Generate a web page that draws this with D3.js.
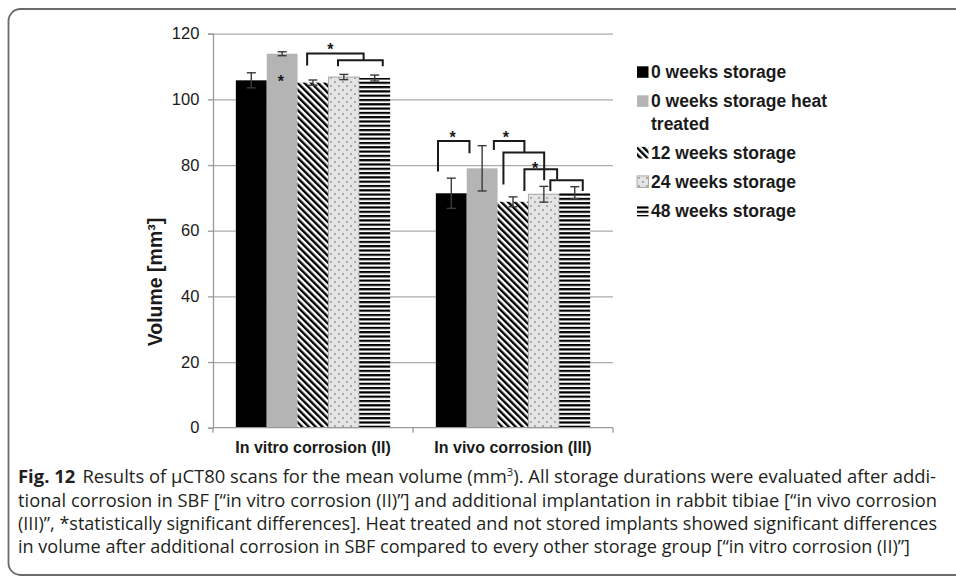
<!DOCTYPE html>
<html>
<head>
<meta charset="utf-8">
<script src="https://cdn.jsdelivr.net/npm/d3@7"></script>
<style>
  body { margin: 0; background: #fff; }
  svg { display: block; }
  .chart text { font-family: "Liberation Sans", Arial, sans-serif; fill: #1a1a1a; }
  .caption text { font-family: "Open Sans", "Noto Sans", sans-serif; fill: #231f20; }
</style>
</head>
<body>
<div id="fig"></div>
<script>
// values (mm^3)
var categories = ["In vitro corrosion (II)", "In vivo corrosion (III)"];
var seriesNames = ["0 weeks storage", "0 weeks storage heat treated", "12 weeks storage", "24 weeks storage", "48 weeks storage"];
var meanVitro = [105.8, 113.9, 105.1, 106.8, 106.5];
var errVitro  = [2.3, 0.6, 0.8, 0.8, 0.9];
var meanVivo  = [71.4, 79.0, 68.8, 71.1, 71.6];
var errVivo   = [4.6, 6.9, 1.5, 2.4, 1.8];
var yTicks = [0, 20, 40, 60, 80, 100, 120];

// significance brackets, in bar units (0..5 across a group) and volume units
var bracketsVitro = [
  {from: 2.31, to: 4.14, top: 114.0, leftEnd: 110.3, rightEnd: 111.9},
  {from: 3.31, to: 4.76, top: 111.9, leftEnd: 110.1, rightEnd: 110.1}
];
var bracketsVivo = [
  {from: 0.07, to: 1.09, top: 87.3, leftEnd: 78.0, rightEnd: 83.6},
  {from: 1.88, to: 2.87, top: 87.3, leftEnd: 84.6, rightEnd: 83.8},
  {from: 2.19, to: 3.51, top: 83.8, leftEnd: 74.1, rightEnd: 75.4},
  {from: 2.87, to: 3.93, top: 78.7, leftEnd: 72.1, rightEnd: 75.7},
  {from: 3.71, to: 4.76, top: 75.4, leftEnd: 72.1, rightEnd: 72.1}
];
var starsVitro = [{at: 3.06, value: 116.3}, {at: 1.46, value: 106.5}];
var starsVivo  = [{at: 0.54, value: 89.5}, {at: 2.27, value: 89.5}, {at: 3.22, value: 80.0}];

var legendLabels = [["0 weeks storage"], ["0 weeks storage heat", "treated"], ["12 weeks storage"], ["24 weeks storage"], ["48 weeks storage"]];

var captionLines = [
  [{t: "Fig. 12", b: true}, {t: "Results of \u00b5CT80 scans for the mean volume (mm", dx: 7}, {t: "3", sup: true}, {t: "). All storage durations were evaluated after addi-"}],
  [{t: "tional corrosion in SBF [\u201cin vitro corrosion (II)\u201d] and additional implantation in rabbit tibiae [\u201cin vivo corrosion"}],
  [{t: "(III)\u201d, *statistically significant differences]. Heat treated and not stored implants showed significant differences"}],
  [{t: "in volume after additional corrosion in SBF compared to every other storage group [\u201cin vitro corrosion (II)\u201d]"}]
];
var captionWidths = [918, 919, 919, 892];

var width = 956, height = 576;
var plot = {left: 213, right: 613, top: 33.7, bottom: 427.7};

var svg = d3.select("#fig").append("svg")
    .attr("width", width)
    .attr("height", height);

// frame round the figure
svg.append("rect")
    .attr("x", 8.5).attr("y", 9)
    .attr("width", 980).attr("height", 566)
    .attr("rx", 12)
    .attr("fill", "none")
    .attr("stroke", "#6b6b6b")
    .attr("stroke-width", 1.8);

var defs = svg.append("defs");

var hatch = defs.append("pattern").attr("id", "hatch")
    .attr("patternUnits", "userSpaceOnUse")
    .attr("width", 4.8).attr("height", 10)
    .attr("patternTransform", "rotate(-45)");
hatch.append("rect").attr("width", 4.8).attr("height", 10).attr("fill", "#fff");
hatch.append("rect").attr("width", 2.4).attr("height", 10).attr("fill", "#000");

var dots = defs.append("pattern").attr("id", "dots")
    .attr("patternUnits", "userSpaceOnUse")
    .attr("width", 8).attr("height", 8);
dots.append("rect").attr("width", 8).attr("height", 8).attr("fill", "#e4e4e4");
dots.append("circle").attr("cx", 2).attr("cy", 2).attr("r", 0.75).attr("fill", "#555");
dots.append("circle").attr("cx", 6).attr("cy", 6).attr("r", 0.75).attr("fill", "#555");

var stripes = defs.append("pattern").attr("id", "stripes")
    .attr("patternUnits", "userSpaceOnUse")
    .attr("width", 10).attr("height", 4.3);
stripes.append("rect").attr("width", 10).attr("height", 4.3).attr("fill", "#fff");
stripes.append("rect").attr("width", 10).attr("height", 2.2).attr("fill", "#000");

var fills = ["#000", "#b4b4b4", "url(#hatch)", "url(#dots)", "url(#stripes)"];
var strokes = ["none", "none", "none", "#a8a8a8", "none"];

var g = svg.append("g").attr("class", "chart");

var y = d3.scaleLinear().domain([0, 120]).range([plot.bottom, plot.top]);
var x0 = d3.scaleBand().domain(categories).range([plot.left, plot.right]);
var x1 = d3.scaleBand().domain(seriesNames).range([0, x0.bandwidth()]).paddingOuter(0.74);

function barPos(cat, u) {
  return x0(cat) + x1(seriesNames[0]) + u * x1.step();
}

// gridlines
g.append("g")
    .attr("class", "grid")
    .attr("transform", "translate(" + plot.left + ",0)")
    .call(d3.axisLeft(y).tickValues(yTicks.slice(1)).tickSize(-(plot.right - plot.left)).tickFormat(""))
    .call(function(s) {
      s.select(".domain").remove();
      s.selectAll("line").attr("stroke", "#ababab").attr("stroke-width", 1.3);
    });

// y axis
g.append("g")
    .attr("transform", "translate(" + plot.left + ",0)")
    .call(d3.axisLeft(y).tickValues(yTicks).tickSize(5).tickPadding(8.7))
    .call(function(s) {
      s.select(".domain").attr("stroke", "#9a9a9a").attr("stroke-width", 1.3);
      s.selectAll("line").attr("stroke", "#9a9a9a").attr("stroke-width", 1.3);
      s.selectAll("text").style("font-size", "16.5px").attr("fill", "#222");
    });

var data = [
  {cat: categories[0], means: meanVitro, errs: errVitro},
  {cat: categories[1], means: meanVivo, errs: errVivo}
];

var groups = g.selectAll(".group")
  .data(data)
  .enter().append("g")
    .attr("class", "group")
    .attr("transform", function(d) { return "translate(" + x0(d.cat) + ",0)"; });

groups.selectAll("rect")
  .data(function(d) { return d.means.map(function(v, i) { return {name: seriesNames[i], value: v, err: d.errs[i], i: i}; }); })
  .enter().append("rect")
    .attr("x", function(d) { return x1(d.name); })
    .attr("y", function(d) { return y(d.value); })
    .attr("width", x1.bandwidth())
    .attr("height", function(d) { return y(0) - y(d.value); })
    .attr("fill", function(d) { return fills[d.i]; })
    .attr("stroke", function(d) { return strokes[d.i]; })
    .attr("stroke-width", 1);

// error bars
var eb = groups.selectAll(".err")
  .data(function(d) { return d.means.map(function(v, i) { return {name: seriesNames[i], value: v, err: d.errs[i]}; }); })
  .enter().append("g")
    .attr("class", "err")
    .attr("stroke", "#3a3a3a")
    .attr("stroke-width", 1.4);

eb.append("line")
    .attr("x1", function(d) { return x1(d.name) + x1.bandwidth() / 2; })
    .attr("x2", function(d) { return x1(d.name) + x1.bandwidth() / 2; })
    .attr("y1", function(d) { return y(d.value - d.err); })
    .attr("y2", function(d) { return y(d.value + d.err); });
[-1, 1].forEach(function(sign) {
  eb.append("line")
      .attr("x1", function(d) { return x1(d.name) + x1.bandwidth() / 2 - 4.5; })
      .attr("x2", function(d) { return x1(d.name) + x1.bandwidth() / 2 + 4.5; })
      .attr("y1", function(d) { return y(d.value + sign * d.err); })
      .attr("y2", function(d) { return y(d.value + sign * d.err); });
});

// x axis
g.append("line")
    .attr("x1", plot.left).attr("x2", plot.right)
    .attr("y1", y(0)).attr("y2", y(0))
    .attr("stroke", "#9a9a9a").attr("stroke-width", 1.3);
g.selectAll(".xtick")
  .data([0, 1, 2])
  .enter().append("line")
    .attr("x1", function(d) { return plot.left + d * x0.bandwidth(); })
    .attr("x2", function(d) { return plot.left + d * x0.bandwidth(); })
    .attr("y1", y(0)).attr("y2", y(0) + 5)
    .attr("stroke", "#9a9a9a").attr("stroke-width", 1.3);

g.append("g")
    .attr("transform", "translate(0," + y(0) + ")")
    .call(d3.axisBottom(x0).tickSize(0).tickPadding(14.2))
    .call(function(s) {
      s.select(".domain").remove();
      s.selectAll("text").style("font-size", "16px").style("font-weight", "bold").attr("fill", "#111");
    });

// y title
g.append("text")
    .attr("transform", "translate(162,282) rotate(-90)")
    .attr("text-anchor", "middle")
    .style("font-size", "19.5px")
    .style("font-weight", "bold")
    .text("Volume [mm\u00b3]");

// brackets
function drawBrackets(cat, list) {
  g.append("g").selectAll("path")
    .data(list)
    .enter().append("path")
      .attr("d", function(b) {
        var xa = barPos(cat, b.from), xb = barPos(cat, b.to);
        return "M" + xa + "," + y(b.leftEnd) + "V" + y(b.top) + "H" + xb + "V" + y(b.rightEnd);
      })
      .attr("fill", "none")
      .attr("stroke", "#1a1a1a")
      .attr("stroke-width", 2);
}
function drawStars(cat, list) {
  g.append("g").selectAll("text")
    .data(list)
    .enter().append("text")
      .attr("x", function(s) { return barPos(cat, s.at); })
      .attr("y", function(s) { return y(s.value) + 9; })
      .attr("text-anchor", "middle")
      .style("font-size", "16px")
      .style("font-weight", "bold")
      .text("*");
}
drawBrackets(categories[0], bracketsVitro);
drawBrackets(categories[1], bracketsVivo);
drawStars(categories[0], starsVitro);
drawStars(categories[1], starsVivo);

// legend
var legend = g.append("g").attr("transform", "translate(637,0)");
var base = 78;
legendLabels.forEach(function(lines, i) {
  legend.append("rect")
      .attr("x", 0).attr("y", base - 11.7)
      .attr("width", 11.5).attr("height", 11.5)
      .attr("fill", fills[i])
      .attr("stroke", strokes[i]);
  var t = legend.append("text")
      .attr("x", 14).attr("y", base)
      .style("font-size", "17.5px")
      .style("font-weight", "bold");
  lines.forEach(function(l, j) {
    t.append("tspan").attr("x", 14).attr("dy", j ? 22.6 : 0).text(l);
  });
  base += 29 + (lines.length - 1) * 22.6;
});

// caption
var cap = svg.append("g").attr("class", "caption");
var capBase = [483, 506.5, 529.5, 552.5];
captionLines.forEach(function(parts, i) {
  var t = cap.append("text")
      .attr("x", 18).attr("y", capBase[i])
      .attr("textLength", captionWidths[i])
      .attr("lengthAdjust", "spacingAndGlyphs")
      .style("font-size", "18px");
  parts.forEach(function(p) {
    var s = t.append("tspan").text(p.t);
    if (p.b) s.style("font-weight", "bold");
    if (p.dx) s.attr("dx", p.dx);
    if (p.sup) s.style("font-size", "11px").attr("dy", -7);
  });
  // put baseline back after a superscript
  t.selectAll("tspan").each(function(p, k) {
    if (k > 0 && parts[k - 1].sup) d3.select(this).attr("dy", 7);
  });
});
</script>
</body>
</html>
